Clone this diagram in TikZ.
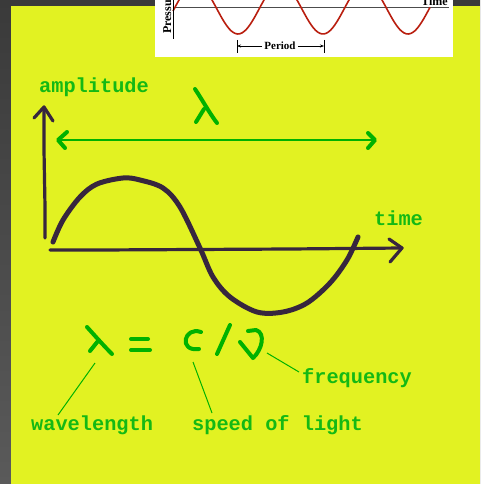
\documentclass[tikz,border=0pt]{standalone}
\usepackage{fontspec}
\usetikzlibrary{arrows.meta}
\newfontfamily\courfont{Liberation Mono}
\newfontfamily\timesfont{Liberation Serif}
\definecolor{yel}{RGB}{226,242,34}
\definecolor{grn}{RGB}{20,185,20}
\definecolor{grnstroke}{RGB}{0,178,0}
\definecolor{ink}{RGB}{55,38,62}
\definecolor{redc}{RGB}{185,30,15}
\definecolor{bgtop}{RGB}{58,58,58}
\definecolor{bgbot}{RGB}{90,90,90}
\tikzset{
  lbl/.style={font=\courfont\bfseries\fontsize{20.3}{22}\selectfont, text=grn, inner sep=0pt, anchor=base west},
  inklinethick/.style={draw=ink, line width=5pt, line cap=round, line join=round},
  inkaxis/.style={draw=ink, line width=3.2pt, line cap=round, line join=round},
  gstroke/.style={draw=grnstroke, line width=4pt, line cap=round, line join=round},
  leader/.style={draw=grnstroke, line width=1pt},
  insetlbl/.style={font=\timesfont\bfseries\fontsize{12}{13}\selectfont, inner sep=0pt}
}
\begin{document}
\begin{tikzpicture}[x=1pt,y=-1pt]
\useasboundingbox (0,0) rectangle (480,484);
% background
\shade[top color=bgtop, bottom color=bgbot] (0,0) rectangle (480,484);
\fill[yel] (11,6) rectangle (480,484);
% inset
\fill[white] (155,0) rectangle (453,57);
\begin{scope}
  \clip (155,0) rectangle (453,57);
  \draw[gray!60!black, line width=1pt] (173,8) -- (449,8);
  \draw[redc, line width=1.6pt] plot[domain=173:430, samples=120] (\x,{8.7+25.3*cos(4.23529*(\x-238))});
  \draw[black, line width=1pt] (173,0) -- (173,39);
  \node[insetlbl, rotate=90, anchor=base west] (press) at (171,34) {Pressure};
  \node[insetlbl, anchor=base east] (tm) at (448,6) {Time};
  \node[insetlbl, font=\timesfont\bfseries\fontsize{11}{12}\selectfont] (per) at (280,46) {Period};
  \coordinate (pl) at (237,46);
  \coordinate (pr) at (324,46);
  \draw[black, line width=0.8pt] (237,40) -- (237,53);
  \draw[black, line width=0.8pt] (324,40) -- (324,53);
  \draw[black, line width=0.7pt, -{Stealth[length=4pt,width=3pt]}] ([xshift=-2pt]per.west) -- (pl);
  \draw[black, line width=0.7pt, -{Stealth[length=4pt,width=3pt]}] ([xshift=2pt]per.east) -- (pr);
\end{scope}
% labels
\node[lbl] (amp) at (39,93) {amplitude};
\node[lbl] (time) at (374,225) {time};
\node[lbl] (freq) at (302,383) {frequency};
\node[lbl] (wave) at (31,430) {wavelength};
\node[lbl] (speed) at (192,430) {speed of light};
% top lambda
\draw[gstroke] (195,89) .. controls (203,101) and (210,114) .. (217,123);
\draw[gstroke] (204,109) -- (196,122);
% green double arrow
\coordinate (da) at (58,140);
\coordinate (db) at (375,140);
\draw[draw=grnstroke, line width=1.6pt] (da) -- (db);
\draw[gstroke] (67,132) -- (da) -- (65,148);
\draw[gstroke] (368,133) -- (db) -- (368,148);
% amplitude axis
\coordinate (ya) at (44,107);
\draw[inkaxis] (45,238) -- (45,207) -- (44,150) -- (ya);
\draw[inkaxis] (34,118) -- (ya) -- (53,121);
% time axis
\coordinate (ta) at (402,248);
\draw[inkaxis] (50,250) -- (100,250) -- (290,249) -- (ta);
\draw[inkaxis] (389,239) -- (ta) -- (390,262);
% sine wave
\draw[inklinethick] plot[smooth, tension=0.55] coordinates {
 (53,242) (63,220) (80,197) (97,184) (123,178) (140,180) (163,188) (180,207) (200,248)
 (213,277) (230,297) (257,312) (283,312) (307,303) (330,283) (347,260) (358,237)};
% equation
\draw[gstroke] (87,327) .. controls (96,337) and (104,346) .. (112,354);
\draw[gstroke] (98,341) -- (90,351);
\draw[gstroke] (131,339) -- (148,339);
\draw[gstroke] (131,350) -- (150,350);
\draw[gstroke] (201,332) .. controls (184,326) and (178,352) .. (199,349);
\draw[gstroke] (230,325) -- (217,354);
\draw[gstroke] (240,342) -- (253,358) .. controls (262,350) and (266,333) .. (256,330) -- (248,331);
% leaders
\coordinate (lamb) at (95,363);
\coordinate (cc) at (193,362);
\coordinate (nu) at (267,353);
\coordinate (waveT) at (58,415);
\coordinate (speedT) at (212,413);
\coordinate (freqT) at (299,372);
\draw[leader] (lamb) -- (waveT);
\draw[leader] (cc) -- (speedT);
\draw[leader] (nu) -- (freqT);
\end{tikzpicture}
\end{document}
